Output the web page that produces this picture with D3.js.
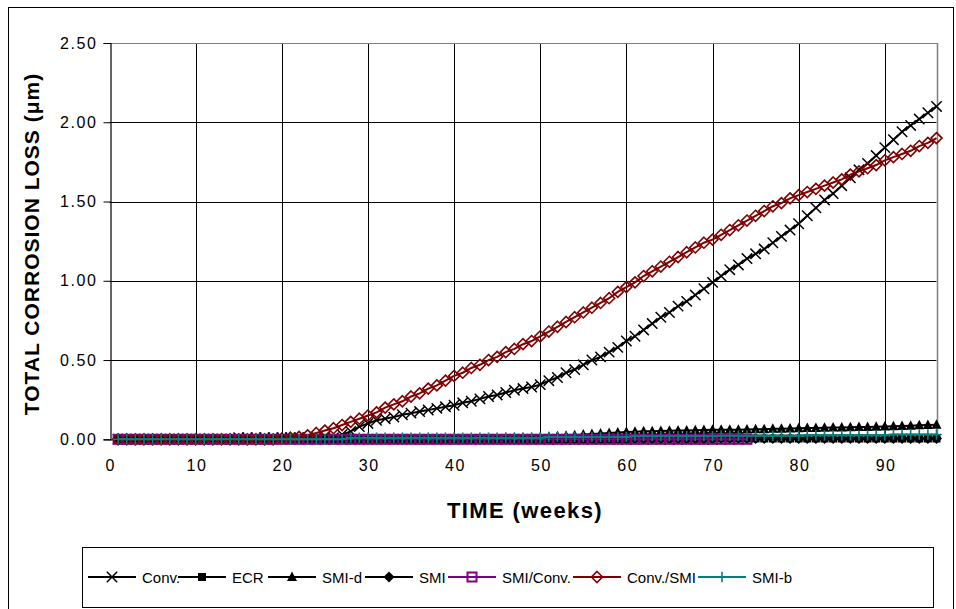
<!DOCTYPE html>
<html><head><meta charset="utf-8">
<script src="https://cdn.jsdelivr.net/npm/d3@7"></script>
<style>
html,body{margin:0;padding:0;background:#fff;}
svg{display:block;font-family:Arial,"Liberation Sans",sans-serif;}
</style></head>
<body>
<svg id="chart" width="956" height="609"></svg>
<script>
// ---------- DATA ----------
const weeks = d3.range(1, 97);
const seriesNames = ["Conv.", "ECR", "SMI-d", "SMI", "SMI/Conv.", "Conv./SMI", "SMI-b"];
const xTicks = [0, 10, 20, 30, 40, 50, 60, 70, 80, 90];
const yTicks = [0, 0.5, 1.0, 1.5, 2.0, 2.5];

const conv = [
 0,0,0,0,0,0,0,0,0,0,
 0,0,0,0,0.01,0.01,0.01,0.01,0.01,0.01,
 0.01,0.01,0.01,0.01,0.01,0.01,0.03,0.05,0.08,0.10,
 0.12,0.13,0.14,0.155,0.165,0.175,0.185,0.195,0.205,0.215,
 0.23,0.24,0.255,0.27,0.28,0.295,0.31,0.32,0.33,0.345,
 0.37,0.39,0.42,0.44,0.47,0.50,0.52,0.55,0.58,0.62,
 0.65,0.69,0.73,0.77,0.80,0.84,0.87,0.91,0.95,0.99,
 1.03,1.07,1.10,1.14,1.17,1.20,1.24,1.28,1.32,1.36,
 1.41,1.46,1.51,1.55,1.60,1.65,1.70,1.74,1.79,1.84,
 1.89,1.94,1.98,2.02,2.06,2.10
];
const ecr = [
 0,0,0,0,0,0,0,0,0,0, 0,0,0,0,0,0,0,0,0,0,
 0,0,0,0,0,0,0,0,0,0, 0,0,0,0,0,0,0,0,0,0,
 0,0,0,0,0,0,0,0,0,0, 0,0,0,0,0,0,0,0,0,0,
 0.005,0.005,0.005,0.005,0.005,0.005,0.005,0.005,0.005,0.005,
 0.005,0.005,0.005,0.005,0.005,0.005,0.005,0.005,0.005,0.005,
 0.005,0.005,0.005,0.005,0.005,0.005,0.005,0.005,0.005,0.005,
 0.005,0.005,0.005,0.005,0.005,0.005
];
const smiD = [
 0,0,0,0,0,0,0,0,0,0, 0,0,0,0,0,0,0,0,0,0,
 0,0,0,0,0,0,0,0,0,0, 0,0,0,0,0,0.005,0.005,0.005,0.005,0.005,
 0.005,0.005,0.005,0.005,0.005,0.01,0.01,0.01,0.01,0.012,
 0.015,0.02,0.022,0.025,0.03,0.033,0.036,0.04,0.043,0.046,
 0.048,0.05,0.05,0.052,0.054,0.055,0.056,0.057,0.058,0.06,
 0.06,0.06,0.061,0.062,0.063,0.064,0.066,0.067,0.068,0.07,
 0.071,0.072,0.073,0.074,0.075,0.076,0.077,0.078,0.079,0.08,
 0.082,0.084,0.086,0.088,0.09,0.092
];
const smi = [
 0,0,0,0,0,0,0,0,0,0, 0,0,0,0,0,0,0,0,0,0,
 0,0,0,0,0,0,0,0,0,0, 0,0,0,0,0,0,0,0,0,0,
 0,0,0,0,0,0,0,0,0,0, 0,0,0,0,0,0,0,0,0,0,
 0,0,0,0,0,0,0,0,0,0,
 0.005,0.005,0.005,0.005,0.005,0.005,0.005,0.005,0.005,0.005,
 0.005,0.005,0.005,0.005,0.005,0.005,0.005,0.005,0.005,0.005,
 0.005,0.005,0.005,0.005,0.005,0.005
];
const smiConv = [
 0,0,0,0,0,0,0,0,0,0, 0,0,0,0,0,0,0,0,0,0,
 0,0,0,0,0,0,0,0,0,0, 0,0,0,0,0,0,0,0,0,0,
 0,0,0,0,0,0,0,0,0,0, 0,0,0,0,0,0,0,0,0,0,
 0,0,0,0,0,0,0,0,0,0, 0,0,0,0
];
const convSmi = [
 0,0,0,0,0,0,0,0,0,0,
 0,0,0,0,0,0,0,0,0,0.005,
 0.01,0.015,0.025,0.04,0.055,0.07,0.09,0.11,0.13,0.15,
 0.17,0.20,0.22,0.24,0.27,0.29,0.32,0.34,0.37,0.40,
 0.42,0.45,0.47,0.50,0.52,0.55,0.57,0.60,0.62,0.65,
 0.68,0.71,0.74,0.77,0.80,0.83,0.86,0.89,0.93,0.96,
 0.99,1.03,1.06,1.09,1.12,1.15,1.18,1.21,1.24,1.26,
 1.29,1.32,1.35,1.38,1.41,1.44,1.47,1.49,1.52,1.54,
 1.56,1.58,1.60,1.62,1.64,1.67,1.69,1.71,1.73,1.76,
 1.78,1.80,1.82,1.85,1.87,1.90
];
const smiB = [
 0,0,0,0,0,0,0,0,0,0, 0,0,0,0,0,0,0,0,0,0,
 0,0,0,0,0,0,0,0.01,0.01,0.01,
 0.01,0.01,0.01,0.01,0.01,0.01,0.01,0.01,0.01,0.01,
 0.01,0.01,0.01,0.01,0.01,0.01,0.01,0.01,0.01,0.01,
 0.015,0.015,0.015,0.015,0.015,0.015,0.015,0.015,0.015,0.015,
 0.02,0.02,0.02,0.02,0.02,0.02,0.02,0.02,0.02,0.02,
 0.022,0.022,0.022,0.022,0.022,0.022,0.022,0.022,0.022,0.022,
 0.025,0.025,0.025,0.025,0.025,0.025,0.025,0.025,0.025,0.025,
 0.03,0.03,0.03,0.03,0.03,0.03
];

const seriesValues = [conv, ecr, smiD, smi, smiConv, convSmi, smiB];
const seriesColors = ["#000000", "#000000", "#000000", "#000000", "#800080", "#800000", "#008080"];
const seriesMarkers = ["x", "squareFill", "triangle", "diamondFill", "squareOpen", "diamondOpen", "plus"];

// ---------- LAYOUT ----------
const svg = d3.select("#chart");
const plot = {left: 109.5, right: 936.5, top: 43, bottom: 439.3};
const x = d3.scaleLinear().domain([0, 96]).range([plot.left, plot.right]);
const y = d3.scaleLinear().domain([0, 2.5]).range([plot.bottom, plot.top]);

// outer frame
svg.append("rect").attr("x", 8.5).attr("y", 7.5).attr("width", 945).attr("height", 610)
  .attr("fill", "#fff").attr("stroke", "#000").attr("stroke-width", 1);

// grid
const g = svg.append("g");
g.selectAll(".hg").data(yTicks.filter(d => d > 0 && d < 2.5)).enter().append("line")
  .attr("x1", plot.left).attr("x2", plot.right)
  .attr("y1", d => Math.round(y(d)) + 0.5).attr("y2", d => Math.round(y(d)) + 0.5)
  .attr("stroke", "#000").attr("stroke-width", 1);
g.selectAll(".vg").data(xTicks.filter(d => d > 0)).enter().append("line")
  .attr("y1", plot.top).attr("y2", plot.bottom)
  .attr("x1", d => Math.round(x(d)) + 0.5).attr("x2", d => Math.round(x(d)) + 0.5)
  .attr("stroke", "#000").attr("stroke-width", 1);
// plot border (top/right gray)
g.append("line").attr("x1", plot.left).attr("x2", plot.right + 0.5)
  .attr("y1", Math.round(plot.top) + 0.5).attr("y2", Math.round(plot.top) + 0.5)
  .attr("stroke", "#808080");
g.append("line").attr("x1", Math.round(plot.right) + 0.5).attr("x2", Math.round(plot.right) + 0.5)
  .attr("y1", plot.top).attr("y2", plot.bottom).attr("stroke", "#808080").attr("stroke-width", 1.5);

// Y axis
const yAxis = d3.axisLeft(y).tickValues(yTicks).tickFormat(d3.format(".2f")).tickSize(7).tickPadding(6);
const ya = svg.append("g").attr("transform", `translate(${Math.round(plot.left) + 0.5},0)`).call(yAxis);
ya.select(".domain").attr("stroke", "#000").attr("stroke-width", 1.2);
ya.selectAll(".tick line").attr("stroke", "#000");
ya.selectAll(".tick text").attr("font-size", 16).attr("letter-spacing", "1.6px")
  .attr("font-family", "Arial, 'Liberation Sans', sans-serif").attr("fill", "#000");

// X axis (labels only)
const xAxis = d3.axisBottom(x).tickValues(xTicks).tickFormat(d3.format("d")).tickSize(0).tickPadding(20);
const xa = svg.append("g").attr("transform", `translate(0,${plot.bottom})`).call(xAxis);
xa.select(".domain").attr("stroke", "#000");
xa.selectAll(".tick text").attr("font-size", 16).attr("letter-spacing", "1.6px")
  .attr("font-family", "Arial, 'Liberation Sans', sans-serif").attr("fill", "#000")
  .attr("dx", "0.05em");

// axis titles
svg.append("text").attr("x", 525).attr("y", 518).attr("text-anchor", "middle")
  .attr("font-size", 22).attr("font-weight", "bold").attr("letter-spacing", "1.4px")
  .text("TIME (weeks)");
svg.append("text").attr("transform", "translate(39,244) rotate(-90)").attr("text-anchor", "middle")
  .attr("font-size", 21).attr("font-weight", "bold").attr("letter-spacing", "1px")
  .text("TOTAL CORROSION LOSS (\u03bcm)");

// marker drawing
function drawMarker(sel, type, color) {
  const s = 5.2;
  if (type === "x") {
    sel.append("path").attr("d", `M${-s},${-s}L${s},${s}M${-s},${s}L${s},${-s}`)
      .attr("stroke", color).attr("stroke-width", 1.5).attr("fill", "none");
  } else if (type === "plus") {
    sel.append("path").attr("d", `M${-s},0L${s},0M0,${-s}L0,${s}`)
      .attr("stroke", color).attr("stroke-width", 1.6).attr("fill", "none");
  } else if (type === "squareFill") {
    sel.append("rect").attr("x", -4).attr("y", -4).attr("width", 8).attr("height", 8).attr("fill", color);
  } else if (type === "squareOpen") {
    sel.append("rect").attr("x", -4.5).attr("y", -4.5).attr("width", 9).attr("height", 9)
      .attr("fill", "none").attr("stroke", color).attr("stroke-width", 2);
  } else if (type === "triangle") {
    sel.append("path").attr("d", "M0,-5.5L5,4L-5,4Z").attr("fill", color);
  } else if (type === "diamondFill") {
    sel.append("path").attr("d", "M0,-5.5L5.5,0L0,5.5L-5.5,0Z").attr("fill", color);
  } else if (type === "diamondOpen") {
    sel.append("path").attr("d", "M0,-5.5L5.5,0L0,5.5L-5.5,0Z").attr("fill", "none")
      .attr("stroke", color).attr("stroke-width", 1.6);
  }
}

// series
const line = d3.line().x(d => x(d[0])).y(d => y(d[1]));
seriesNames.forEach((name, i) => {
  const vals = seriesValues[i];
  const pts = vals.map((v, j) => [weeks[j], v]);
  const sg = svg.append("g");
  sg.append("path").attr("d", line(pts)).attr("fill", "none")
    .attr("stroke", seriesColors[i]).attr("stroke-width", 2);
  pts.forEach(p => {
    const m = sg.append("g").attr("transform", `translate(${x(p[0])},${y(p[1])})`);
    drawMarker(m, seriesMarkers[i], seriesColors[i]);
  });
});

// legend
svg.append("rect").attr("x", 82.5).attr("y", 547.5).attr("width", 851).attr("height", 60)
  .attr("fill", "#fff").attr("stroke", "#000").attr("stroke-width", 1);
const legendX = [88, 178, 268, 365, 448, 573, 698];
seriesNames.forEach((name, i) => {
  const lg = svg.append("g").attr("transform", `translate(${legendX[i]},577)`);
  lg.append("line").attr("x1", 0).attr("x2", 48).attr("y1", 0).attr("y2", 0)
    .attr("stroke", seriesColors[i]).attr("stroke-width", 2);
  const m = lg.append("g").attr("transform", "translate(24,0)");
  drawMarker(m, seriesMarkers[i], seriesColors[i]);
  lg.append("text").attr("x", 54).attr("y", 5.5).attr("font-size", 15).attr("fill", "#000").text(name);
});
</script>
</body></html>
